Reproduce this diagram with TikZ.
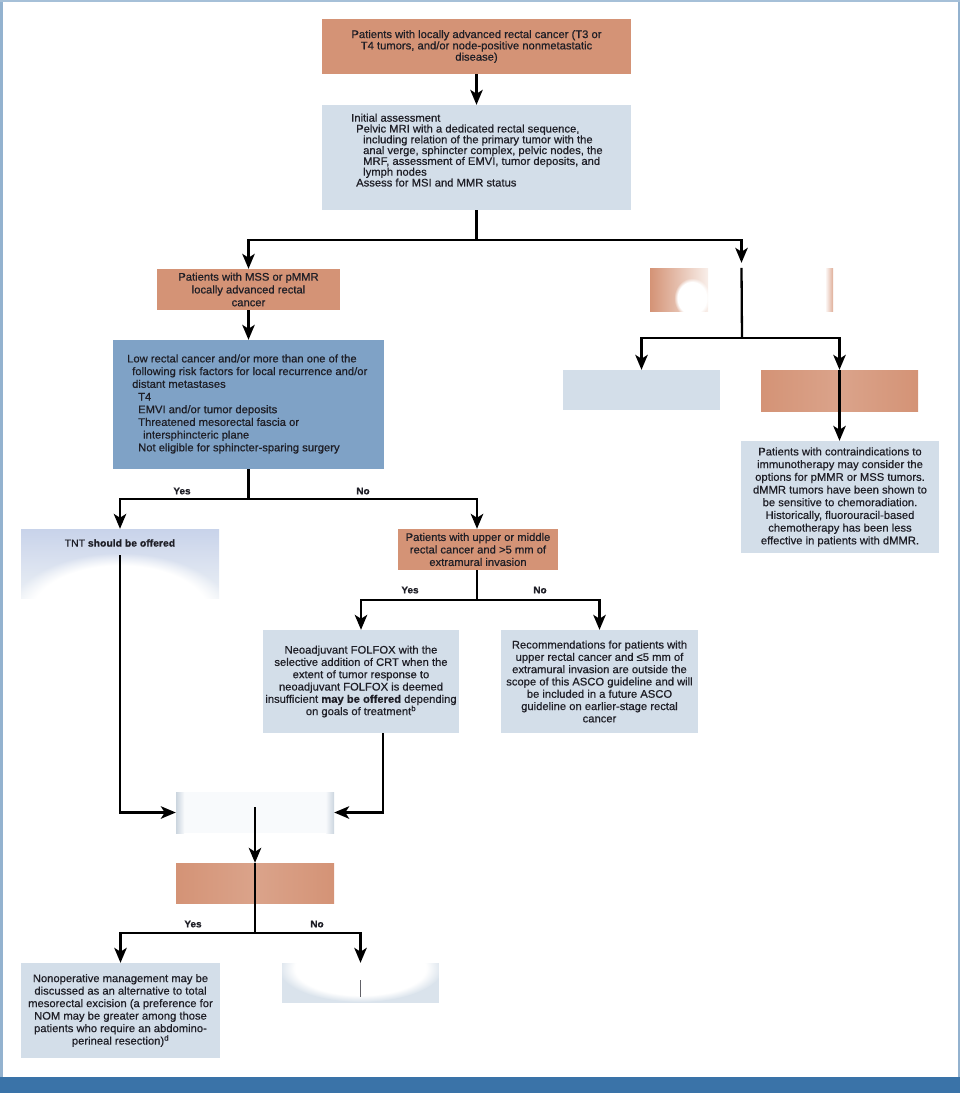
\documentclass[tikz,border=0pt]{standalone}
\usepackage{fontspec}
\setmainfont{Liberation Sans}[FakeStretch=1.02, FakeBold=0.6]
\usetikzlibrary{arrows.meta,fadings}
\definecolor{orangebox}{HTML}{D49376}
\definecolor{lightbox}{HTML}{D3DEE9}
\definecolor{riskblue}{HTML}{7FA2C6}
\definecolor{frameblue}{HTML}{3A73A8}
\definecolor{txt}{HTML}{1E1E26}
\begin{document}
\begin{tikzpicture}[x=1pt,y=-1pt,
  box/.style={draw=none, inner sep=0pt, align=center, text=txt, font=\fontsize{11}{12.5}\selectfont},
  obox/.style={box, fill=orangebox},
  lbox/.style={box, fill=lightbox},
  txtn/.style={inner sep=0pt, text=txt},
  arr/.style={-{Stealth[length=15pt,width=12.5pt,inset=4pt]}, line width=2.3pt, line cap=butt},
  ln/.style={line width=2.3pt},
  lab/.style={inner sep=0pt, text=txt, font=\bfseries\fontsize{9.8}{10}\selectfont}]
\useasboundingbox (0,0) rectangle (960,1093);
% frame
\fill[frameblue!55] (0,0) rectangle (2.5,1093);
\fill[frameblue!55] (957.5,0) rectangle (960,1093);
\fill[frameblue!45] (0,0) rectangle (960,1.5);
\fill[frameblue] (0,1077) rectangle (960,1093);

% top
\node[obox, minimum width=309pt, minimum height=55pt, font=\fontsize{11}{11.3}\selectfont] (top) at (476.5,46.5)
  {Patients with locally advanced rectal cancer (T3 or\\T4 tumors, and/or node-positive nonmetastatic\\disease)};
% initial assessment
\node[lbox, minimum width=309pt, minimum height=105pt] (init) at (476.5,157.5) {};
\node[txtn, anchor=north west, align=left, font=\fontsize{11}{10.8}\selectfont] (initt) at (351,113.5)
  {Initial assessment\\
   \hspace*{5pt}Pelvic MRI with a dedicated rectal sequence,\\
   \hspace*{12pt}including relation of the primary tumor with the\\
   \hspace*{12pt}anal verge, sphincter complex, pelvic nodes, the\\
   \hspace*{12pt}MRF, assessment of EMVI, tumor deposits, and\\
   \hspace*{12pt}lymph nodes\\
   \hspace*{5pt}Assess for MSI and MMR status};
% MSS
\node[obox, minimum width=183pt, minimum height=41pt, font=\fontsize{11}{12.8}\selectfont] (mss) at (248.5,289.5)
  {Patients with MSS or pMMR\\locally advanced rectal\\cancer};
% risk box
\node[box, fill=riskblue, minimum width=271pt, minimum height=129pt] (risk) at (248.5,404.5) {};
\node[txtn, anchor=west, align=left, font=\fontsize{11}{12.7}\selectfont] (riskt) at (127,404)
  {Low rectal cancer and/or more than one of the\\
   \hspace*{5pt}following risk factors for local recurrence and/or\\
   \hspace*{5pt}distant metastases\\
   \hspace*{11pt}T4\\
   \hspace*{11pt}EMVI and/or tumor deposits\\
   \hspace*{11pt}Threatened mesorectal fascia or\\
   \hspace*{16pt}intersphincteric plane\\
   \hspace*{11pt}Not eligible for sphincter-sparing surgery};

% right branch erased boxes
\node[box, minimum width=183pt, minimum height=43pt] (dmmr) at (741.5,289.5) {};
\begin{scope}
  \clip (650,268) rectangle (833,311);
  \shade[left color=orangebox, right color=orangebox!15!white] (650,268) rectangle (708,311);
  \fill[white, path fading=circle with fuzzy edge 20 percent] (692,298) ellipse (18 and 20);
  \shade[left color=orangebox!10!white, right color=orangebox!75!white] (826,268) rectangle (833,311);
\end{scope}
\node[lbox, minimum width=157pt, minimum height=40pt] (e2) at (641.5,390) {};
\node[box, minimum width=157pt, minimum height=41pt, left color=orangebox, right color=orangebox, middle color=orangebox!85!white] (e3) at (839.5,390.5) {};
\node[lbox, minimum width=198pt, minimum height=112pt, font=\fontsize{11}{12.7}\selectfont] (contra) at (840,497)
  {Patients with contraindications to\\immunotherapy may consider the\\options for pMMR or MSS tumors.\\dMMR tumors have been shown to\\be sensitive to chemoradiation.\\Historically, fluorouracil-based\\chemotherapy has been less\\effective in patients with dMMR.};

% TNT
\node[box, minimum width=198pt, minimum height=69pt, top color=lightbox!95!blue, bottom color=lightbox!45!white] (tnt) at (120,563.5) {};
\begin{scope}
  \clip (21,529) rectangle (219,598);
  \fill[white, path fading=circle with fuzzy edge 20 percent] (120,615) ellipse (112 and 62);
\end{scope}
\node[txtn, font=\fontsize{10.2}{11}\selectfont] (tntt) at (120,543) {TNT \textbf{should be offered}};
\coordinate (tntl) at (120,555);

% upper/middle
\node[obox, minimum width=160pt, minimum height=41pt, font=\fontsize{11}{12.5}\selectfont] (upper) at (478,549.5)
  {Patients with upper or middle\\rectal cancer and >5 mm of\\extramural invasion};
\node[lbox, minimum width=196pt, minimum height=103pt, font=\fontsize{11}{12.3}\selectfont] (neo) at (361,681.5)
  {Neoadjuvant FOLFOX with the\\selective addition of CRT when the\\extent of tumor response to\\neoadjuvant FOLFOX is deemed\\insufficient \textbf{may be offered} depending\\on goals of treatment\textsuperscript{b}};
\node[lbox, minimum width=197pt, minimum height=103pt, font=\fontsize{11}{12.3}\selectfont] (rec) at (599.5,681.5)
  {Recommendations for patients with\\upper rectal cancer and ≤5 mm of\\extramural invasion are outside the\\scope of this ASCO guideline and will\\be included in a future ASCO\\guideline on earlier-stage rectal\\cancer};

% erased boxes lower
\node[box, minimum width=158pt, minimum height=41pt, fill=lightbox!15!white] (e4) at (255,812.5) {};
\shade[left color=lightbox!90!gray, right color=lightbox!20!white] (176,792) rectangle (184,833);
\shade[left color=lightbox!20!white, right color=lightbox!90!gray] (326,792) rectangle (334,833);
\coordinate (e4l) at (255,807);
\node[box, minimum width=158pt, minimum height=40pt, left color=orangebox, right color=orangebox, middle color=orangebox!85!white] (e5) at (255,883) {};

\node[lbox, minimum width=199pt, minimum height=95pt, font=\fontsize{11}{12.5}\selectfont] (nom) at (120.5,1010.5)
  {Nonoperative management may be\\discussed as an alternative to total\\mesorectal excision (a preference for\\NOM may be greater among those\\patients who require an abdomino-\\perineal resection)\textsuperscript{d}};
\node[box, minimum width=157pt, minimum height=40pt, fill=lightbox!85!white] (e6) at (360.5,983) {};
\begin{scope}
  \clip (282,963) rectangle (439,1003);
  \fill[white, path fading=circle with fuzzy edge 20 percent] (360.5,968) ellipse (82 and 34);
\end{scope}
\draw[txt!70, line width=0.8pt] (360,980) -- (360,997);

% connectors
\draw[arr] (top.south) -- (init.north);
\coordinate (j1) at (476.5,240);
\draw[ln] (init.south) -- (j1);
\draw[arr] (j1) -| (mss.north);
\draw[arr, shorten >=5pt] (j1) -| (dmmr.north);
\coordinate (j2) at (742,338);
\draw[ln] (dmmr.north) -- (j2);
\draw[arr] (j2) -| (e2.north);
\draw[arr] (j2) -| (e3.north);
\draw[arr] (e3.north) -- (e3.north |- contra.north);

\draw[arr] (mss.south) -- (risk.north);
\coordinate (j3) at (248.5,499);
\draw[ln] (risk.south) -- (j3);
\draw[arr] (j3) -| (tnt.north);
\draw[arr] (j3) -| (upper.north -| 477,0);
\node[lab] (y1) at (182,491) {Yes};
\node[lab] (n1) at (363,491) {No};

\coordinate (j4) at (477,600);
\draw[ln] (upper.south -| 477,0) -- (j4);
\draw[arr] (j4) -| (neo.north);
\draw[arr] (j4) -| (rec.north);
\node[lab] (y2) at (410,590) {Yes};
\node[lab] (n2) at (540,590) {No};

\draw[arr] (tntl) |- (e4.west);
\draw[arr] ([xshift=22pt]neo.south) |- (e4.east);
\draw[arr] (e4l) -- (e5.north);
\coordinate (j5) at (255,933);
\draw[ln] (e5.north) -- (j5);
\draw[arr] (j5) -| (nom.north);
\draw[arr] (j5) -| (e6.north);
\node[lab] (y3) at (193,924) {Yes};
\node[lab] (n3) at (317,924) {No};
\end{tikzpicture}
\end{document}
